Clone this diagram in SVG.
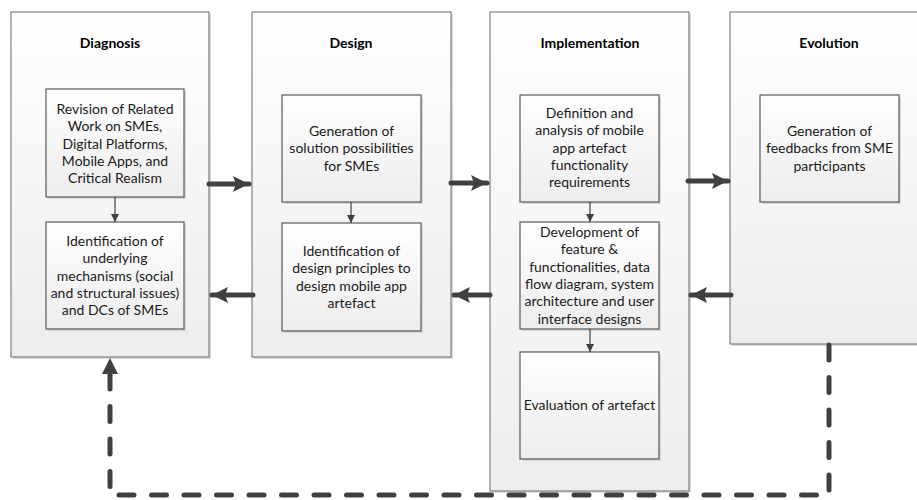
<svg xmlns="http://www.w3.org/2000/svg" width="917" height="500" viewBox="0 0 917 500">
<defs>
<linearGradient id="g" x1="0" y1="0" x2="0" y2="1">
<stop offset="0" stop-color="#ffffff"/>
<stop offset="1" stop-color="#ededed"/>
</linearGradient>
<marker id="sm" viewBox="0 0 10 10" refX="10" refY="5" markerWidth="8" markerHeight="8" markerUnits="userSpaceOnUse" orient="auto">
<path d="M0,0 L10,5 L0,10 z" fill="#404040"/>
</marker>
<marker id="big" viewBox="0 0 16 16" refX="16" refY="8" markerWidth="16" markerHeight="16" markerUnits="userSpaceOnUse" orient="auto">
<path d="M0,0 L16,8 L0,16 L3,8 z" fill="#404040"/>
</marker>
</defs>
<style>
.outer{fill:url(#g);stroke:#808080;stroke-width:1.2}
.inner{fill:url(#g);stroke:#595959;stroke-width:1.2}
.sh{fill:#d9d9d9}
.t{font-family:Lato,"Liberation Sans",sans-serif;font-size:14px;fill:#1a1a1a;text-anchor:middle}
.h{font-family:Lato,"Liberation Sans",sans-serif;font-size:14px;font-weight:bold;fill:#000;text-anchor:middle}
.thin{stroke:#404040;stroke-width:1.2;fill:none}
.thick{stroke:#404040;stroke-width:5;fill:none;stroke-linecap:round}
.dash{stroke:#404040;stroke-width:5;fill:none;stroke-linecap:round;stroke-dasharray:15 17.5}
</style>
<rect width="917" height="500" fill="#ffffff"/>

<g id="diagnosis">
<rect class="sh" x="13" y="14" width="198" height="345"/>
<rect class="outer" x="11" y="12" width="198" height="345"/>
<text class="h" x="110" y="48">Diagnosis</text>
</g>
<g id="design">
<rect class="sh" x="254" y="14" width="199" height="345"/>
<rect class="outer" x="252" y="12" width="199" height="345"/>
<text class="h" x="351" y="48">Design</text>
</g>
<g id="implementation">
<rect class="sh" x="492" y="14" width="199" height="479"/>
<rect class="outer" x="490" y="12" width="199" height="479"/>
<text class="h" x="590" y="48">Implementation</text>
</g>
<g id="evolution">
<rect class="sh" x="732" y="14" width="199" height="332"/>
<rect class="outer" x="730" y="12" width="199" height="332"/>
<text class="h" x="829" y="48">Evolution</text>
</g>

<g id="revision">
<rect class="sh" x="48" y="91" width="138" height="108"/>
<rect class="inner" x="46" y="89" width="138" height="108"/>
<text class="t" x="115"><tspan x="115" y="114">Revision of Related</tspan><tspan x="115" y="131.3">Work on SMEs,</tspan><tspan x="115" y="148.6">Digital Platforms,</tspan><tspan x="115" y="165.9">Mobile Apps, and</tspan><tspan x="115" y="183.2">Critical Realism</tspan></text>
</g>
<g id="identification-mechanisms">
<rect class="sh" x="48" y="224" width="138" height="107"/>
<rect class="inner" x="46" y="222" width="138" height="107"/>
<text class="t"><tspan x="115" y="246">Identification of</tspan><tspan x="115" y="263.3">underlying</tspan><tspan x="115" y="280.6">mechanisms (social</tspan><tspan x="115" y="297.9">and structural issues)</tspan><tspan x="115" y="315.2">and DCs of SMEs</tspan></text>
</g>
<g id="generation-solutions">
<rect class="sh" x="284" y="97" width="139" height="107"/>
<rect class="inner" x="282" y="95" width="139" height="107"/>
<text class="t"><tspan x="351.5" y="136">Generation of</tspan><tspan x="351.5" y="153.3">solution possibilities</tspan><tspan x="351.5" y="170.6">for SMEs</tspan></text>
</g>
<g id="identification-principles">
<rect class="sh" x="284" y="225" width="139" height="108"/>
<rect class="inner" x="282" y="223" width="139" height="108"/>
<text class="t"><tspan x="351.5" y="256">Identification of</tspan><tspan x="351.5" y="273.3">design principles to</tspan><tspan x="351.5" y="290.6">design mobile app</tspan><tspan x="351.5" y="307.9">artefact</tspan></text>
</g>
<g id="definition">
<rect class="sh" x="522" y="97" width="139" height="107"/>
<rect class="inner" x="520" y="95" width="139" height="107"/>
<text class="t"><tspan x="589.5" y="118">Definition and</tspan><tspan x="589.5" y="135.3">analysis of mobile</tspan><tspan x="589.5" y="152.6">app artefact</tspan><tspan x="589.5" y="169.9">functionality</tspan><tspan x="589.5" y="187.2">requirements</tspan></text>
</g>
<g id="development">
<rect class="sh" x="522" y="224" width="139" height="107"/>
<rect class="inner" x="520" y="222" width="139" height="107"/>
<text class="t"><tspan x="589.5" y="237">Development of</tspan><tspan x="589.5" y="254.3">feature &amp;</tspan><tspan x="589.5" y="271.6">functionalities, data</tspan><tspan x="589.5" y="288.9">flow diagram, system</tspan><tspan x="589.5" y="306.2">architecture and user</tspan><tspan x="589.5" y="323.5">interface designs</tspan></text>
</g>
<g id="evaluation">
<rect class="sh" x="522" y="354" width="139" height="107"/>
<rect class="inner" x="520" y="352" width="139" height="107"/>
<text class="t" x="589.5" y="410">Evaluation of artefact</text>
</g>
<g id="feedbacks">
<rect class="sh" x="762" y="97" width="139" height="107"/>
<rect class="inner" x="760" y="95" width="139" height="107"/>
<text class="t"><tspan x="829.5" y="136">Generation of</tspan><tspan x="829.5" y="153.3">feedbacks from SME</tspan><tspan x="829.5" y="170.6">participants</tspan></text>
</g>

<g id="connectors">
<path class="thin" d="M115,197 V222" marker-end="url(#sm)"/>
<path class="thin" d="M351,202 V223" marker-end="url(#sm)"/>
<path class="thin" d="M590,202 V222" marker-end="url(#sm)"/>
<path class="thin" d="M590,329 V352" marker-end="url(#sm)"/>
<path class="thick" d="M209,184 H249" marker-end="url(#big)"/>
<path class="thick" d="M451,183 H487" marker-end="url(#big)"/>
<path class="thick" d="M688,181 H728" marker-end="url(#big)"/>
<path class="thick" d="M253,295 H212" marker-end="url(#big)"/>
<path class="thick" d="M490,295 H454" marker-end="url(#big)"/>
<path class="thick" d="M731,295 H691" marker-end="url(#big)"/>
<path class="dash" d="M829,345 V495 H110 V374"/>
<path d="M110,358 L118,374 L102,374 z" fill="#404040"/>
</g>
</svg>
